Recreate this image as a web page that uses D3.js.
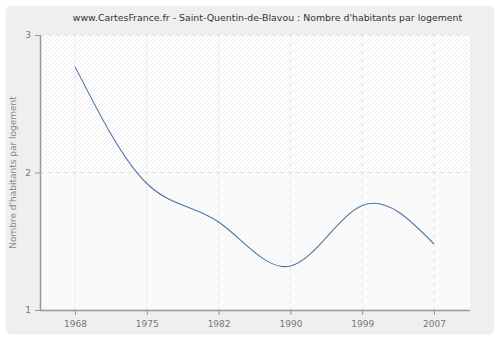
<!DOCTYPE html>
<html lang="en">
<head>
<meta charset="UTF-8">
<title>Nombre d'habitants par logement</title>
<script src="https://d3js.org/d3.v7.min.js"></script>
<style>
  body { margin: 0; background: #fff; }
  text { font-family: "DejaVu Sans", Verdana, sans-serif; }
</style>
</head>
<body>
<script>
const years = ["1968", "1975", "1982", "1990", "1999", "2007"];
const values = [2.77, 1.92, 1.64, 1.32, 1.76, 1.48];
const yTicks = [1, 2, 3];
const title = "www.CartesFrance.fr - Saint-Quentin-de-Blavou : Nombre d'habitants par logement";
const yLabel = "Nombre d'habitants par logement";

const W = 500, H = 340;
const m = {left: 40, top: 35, right: 30, bottom: 30};

const svg = d3.select("body").append("svg")
    .attr("width", W)
    .attr("height", H);

// hatch patterns
const defs = svg.append("defs");
const hatch = (id, bg, line) => {
    const p = defs.append("pattern")
        .attr("id", id)
        .attr("patternUnits", "userSpaceOnUse")
        .attr("width", 4).attr("height", 4);
    p.append("rect").attr("width", 4).attr("height", 4).attr("fill", bg);
    p.append("path").attr("d", "M-1,1 l2,-2 M0,4 l4,-4 M3,5 l2,-2")
        .attr("stroke", line).attr("stroke-width", 1);
};
hatch("hatchTop", "#ffffff", "#ececec");
hatch("hatchBottom", "#fcfcfc", "#f3f3f3");

// outer frame
svg.append("rect")
    .attr("x", 5.5).attr("y", 5.5)
    .attr("width", W - 11).attr("height", H - 11)
    .attr("rx", 6)
    .attr("fill", "#efefef")
    .attr("stroke", "#f8f8f8");

svg.append("text")
    .attr("x", 267.5).attr("y", 21)
    .attr("text-anchor", "middle")
    .attr("font-size", 9.4)
    .attr("fill", "#333")
    .text(title);

const x = d3.scalePoint()
    .domain(years)
    .range([75, 434]);

const y = d3.scaleLinear()
    .domain([1, 3])
    .range([H - m.bottom, m.top]);

const plotL = m.left, plotR = W - m.right;

svg.append("rect")
    .attr("x", plotL).attr("y", y(3))
    .attr("width", plotR - plotL).attr("height", y(2) - y(3))
    .attr("fill", "url(#hatchTop)");
svg.append("rect")
    .attr("x", plotL).attr("y", y(2))
    .attr("width", plotR - plotL).attr("height", y(1) - y(2))
    .attr("fill", "url(#hatchBottom)");

// grid
svg.append("g").selectAll("line")
    .data(years)
    .join("line")
    .attr("x1", d => x(d)).attr("x2", d => x(d))
    .attr("y1", y(3)).attr("y2", y(1))
    .attr("stroke", "#e2e2e2")
    .attr("stroke-dasharray", "4,4");
svg.append("g").selectAll("line")
    .data(yTicks)
    .join("line")
    .attr("x1", plotL).attr("x2", plotR)
    .attr("y1", d => y(d)).attr("y2", d => y(d))
    .attr("stroke", "#e2e2e2")
    .attr("stroke-dasharray", "4,4");

// axes
const xAxis = svg.append("g")
    .attr("transform", `translate(0,${y(1)})`)
    .call(d3.axisBottom(x).tickSize(5).tickPadding(6));
xAxis.select(".domain").attr("d", `M${plotL},0.5H${plotR}`);

const yAxis = svg.append("g")
    .attr("transform", `translate(${plotL},0)`)
    .call(d3.axisLeft(y).tickValues(yTicks).tickFormat(d3.format("d")).tickSize(5).tickPadding(4));
yAxis.select(".domain").attr("d", `M0.5,${y(3)}V${y(1)}`);

[xAxis, yAxis].forEach(a => {
    a.select(".domain").attr("stroke", "#999").attr("stroke-width", 1.5);
    a.selectAll(".tick line").attr("stroke", "#999");
    a.selectAll(".tick text").attr("fill", "#777").attr("font-size", 9)
        .style("font-family", "DejaVu Sans, Verdana, sans-serif");
});

svg.append("text")
    .attr("transform", `translate(16,${(y(1) + y(3)) / 2}) rotate(-90)`)
    .attr("text-anchor", "middle")
    .attr("font-size", 9)
    .attr("fill", "#888")
    .text(yLabel);

// line
const line = d3.line()
    .x((d, i) => x(years[i]))
    .y(d => y(d))
    .curve(d3.curveNatural);

svg.append("path")
    .datum(values)
    .attr("d", line)
    .attr("fill", "none")
    .attr("stroke", "#4a76a8")
    .attr("stroke-width", 1.1);
</script>
</body>
</html>
